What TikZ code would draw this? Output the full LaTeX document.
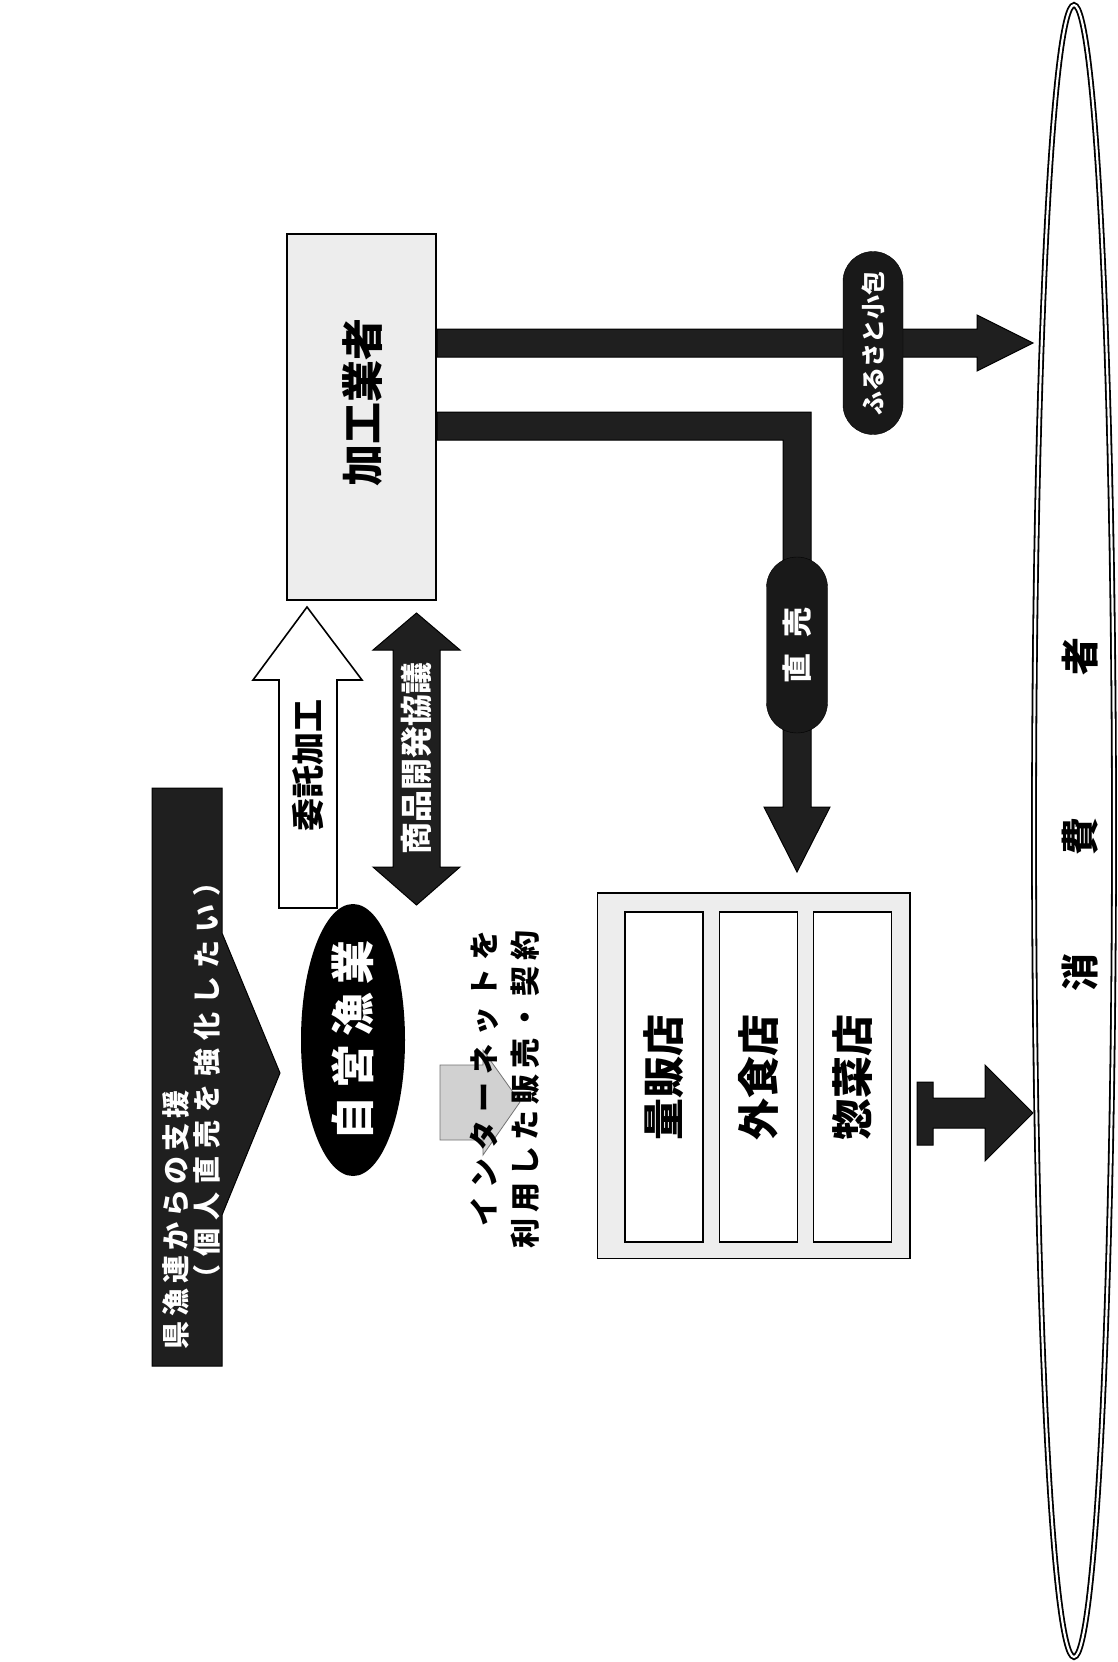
\documentclass[tikz,border=0pt]{standalone}
\usepackage{fontspec}
\setmainfont{Noto Sans CJK JP}
\usetikzlibrary{shapes.geometric,shapes.misc}
\newcommand{\fs}[1]{\fontsize{#1}{#1}\selectfont\bfseries}
\newcommand{\spc}{0pt}
\def\spaced#1#2{\def\spc{#1}\spacedloop#2\relax}
\def\spacedloop#1#2{#1\ifx\relax#2\else\hskip\spc\relax\expandafter\spacedloop\expandafter#2\fi}
\begin{document}
\begin{tikzpicture}[x=1pt,y=-1pt,
  dark/.style={fill=black!88,draw=black,line width=1pt},
  light/.style={fill=black!7,draw=black,line width=1.5pt},
  vt/.style={rotate=90,inner sep=0pt},
  whitebox/.style={fill=white,draw=black,line width=1.5pt,rotate=90,inner sep=0pt},
  pill/.style={fill=black!90,draw=black,rotate=90,rounded rectangle,inner sep=0pt,text=white},
]
\useasboundingbox[fill=white] (0,0) rectangle (1118,1662);

% support box with arrow to fishery
\path[dark] (152,788) -- (222,788) -- (222,933) -- (280,1073) -- (222,1215) -- (222,1366) -- (152,1366) -- cycle;
\node[vt,text=white,font=\fs{28}] (shienA) at (176,1220) {\spaced{5pt}{県漁連からの支援}};
\node[vt,text=white,font=\fs{28}] (shienB) at (207,1080) {\spaced{8pt}{（個人直売を強化したい）}};

% own fishery
\node[ellipse,fill=black,minimum width=104,minimum height=272,inner sep=0pt] (jiei) at (353,1040) {};
\node[vt,text=white,font=\fs{44}] (jieiT) at (jiei.center) {\spaced{8pt}{自営漁業}};

% processor
\node[light,rotate=90,minimum width=366,minimum height=149,inner sep=0pt] (kakou) at (361.5,417) {};
\node[vt,font=\fs{42}] (kakouT) at (363,402) {加工業者};

% consignment arrow (hollow, up)
\path[fill=white,draw=black,line width=1.6pt] (279,908) -- (279,680) -- (253,680) -- (307,607) -- (362,680) -- (337,680) -- (337,908) -- cycle;
\node[vt,font=\fs{33}] (itaku) at (308,765) {委託加工};

% double arrow
\path[dark] (393,650) -- (373,650) -- (416.5,613) -- (460,650) -- (440,650) -- (440,867) -- (460,867) -- (416.5,905) -- (373,867) -- (393,867) -- cycle;
\node[vt,text=white,font=\fs{32}] (kaihatsu) at (416.5,758) {商品開発協議};

% straight arrow to consumers
\path[dark] (437,329) -- (977,329) -- (977,315) -- (1033,343) -- (977,371) -- (977,357) -- (437,357) -- cycle;
\node[pill,minimum width=183,minimum height=60,font=\fs{24}] (furusato) at (873,343) {ふるさと小包};

% bent arrow to stores
\path[dark] (437,412) -- (811,412) -- (811,807) -- (830,807) -- (797,872) -- (764,807) -- (783,807) -- (783,440) -- (437,440) -- cycle;
\node[pill,minimum width=176,minimum height=61,font=\fs{30}] (chokubai) at (797,645) {直\hspace{16pt}売};

% internet arrow
\path[fill=black!18,draw=black!55,line width=0.8pt] (440,1065) -- (483,1065) -- (483,1050) -- (520,1102) -- (483,1155) -- (483,1140) -- (440,1140) -- cycle;
\node[vt,font=\fs{30}] (netA) at (484,1078) {\spaced{8pt}{インターネットを}};
\node[vt,font=\fs{30}] (netB) at (525,1089) {\spaced{6pt}{利用した販売・契約}};

% stores
\path[light,line width=0.8pt] (597,893) rectangle (910,1258);
\draw[line width=2.5pt] (597,893) -- (910,893) -- (910,1258);
\node[whitebox,minimum width=330,minimum height=78,font=\fs{42}] (ryohan) at (664,1077) {量販店};
\node[whitebox,minimum width=330,minimum height=78,font=\fs{42}] (gaishoku) at (758.5,1077) {外食店};
\node[whitebox,minimum width=330,minimum height=78,font=\fs{42}] (sozai) at (852.5,1077) {惣菜店};

% arrow stores -> consumers
\path[dark] (917,1082) -- (933,1082) -- (933,1098) -- (985,1098) -- (985,1065) -- (1033,1113) -- (985,1161) -- (985,1128) -- (933,1128) -- (933,1145) -- (917,1145) -- cycle;

% consumers
\draw[line width=1.8pt,double distance=2.2pt] (1074,831) ellipse [x radius=40,y radius=826];
\node[vt,font=\fs{38}] (sha) at (1080,656) {者};
\node[vt,font=\fs{38}] (hi) at (1080,836) {費};
\node[vt,font=\fs{38}] (sho) at (1080,972) {消};
\end{tikzpicture}
\end{document}
